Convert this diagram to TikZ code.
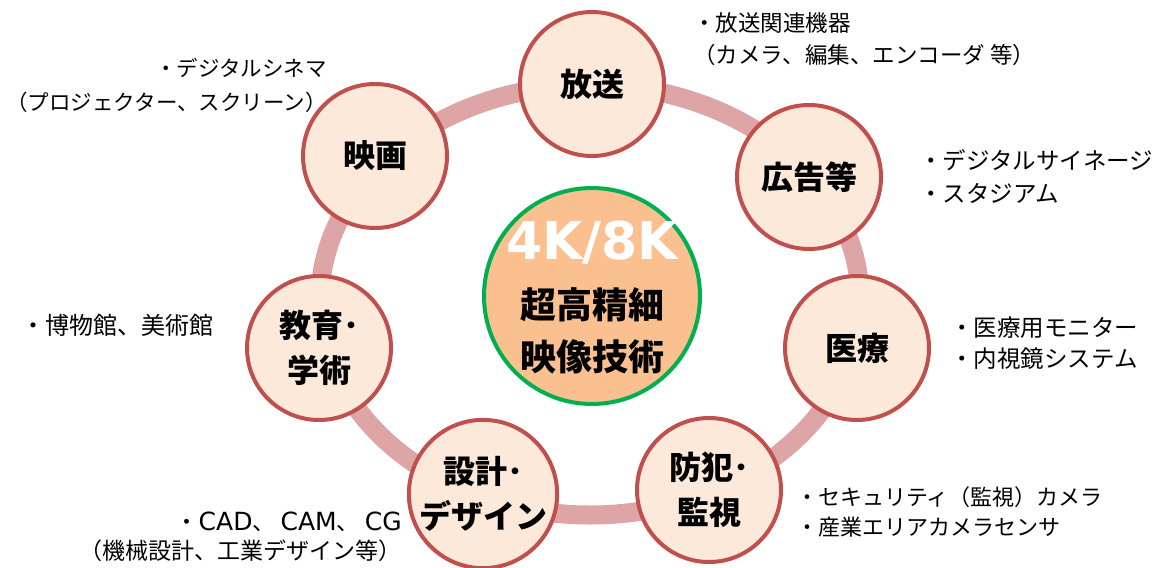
\documentclass[tikz,border=0pt]{standalone}
\usepackage{fontspec}
\setmainfont{Noto Sans CJK JP}
\newfontfamily\dvb{DejaVu Sans}
\definecolor{ringc}{HTML}{DDA5A5}
\definecolor{appline}{HTML}{C0504D}
\definecolor{appfill}{HTML}{FDE9D9}
\definecolor{coreline}{HTML}{00B050}
\definecolor{corefill}{HTML}{FAC090}
\newcommand{\lat}[1]{{\dvb\fontsize{25}{29}\selectfont #1}}
\begin{document}
\begin{tikzpicture}[x=1pt,y=-1pt,
  ring/.style={line width=19pt, draw=ringc},
  app/.style={circle, draw=appline, line width=4pt, fill=appfill, minimum size=144pt, inner sep=0pt, align=center, font=\fontsize{32}{45}\selectfont\bfseries},
  core/.style={circle, draw=coreline, line width=4pt, fill=corefill, minimum size=216pt, inner sep=0pt},
  note/.style={inner sep=0pt, font=\fontsize{22.5}{32}\selectfont}]
\useasboundingbox (0,0) rectangle (1166,567);
\draw[ring] (590,300) ellipse [x radius=270pt, y radius=215pt];
\node[core] (core) at (592,296) {};
\node[text=white, inner sep=0pt, font=\dvb\bfseries\fontsize{52}{52}\selectfont] (k) at (592,243) {4K/8K};
\node[inner sep=0pt, align=center, font=\bfseries\fontsize{36}{52}\selectfont] (ct) at (592,331) {超高精細\\映像技術};
\node[app] (hoso) at (592,84) {放送};
\node[app] (kokoku) at (809,177) {広告等};
\node[app] (iryo) at (857,348) {医療};
\node[app] (bohan) at (709,490) {防犯･\\監視};
\node[app] (sekkei) at (483,494) {設計･\\デザイン};
\node[app] (kyoiku) at (319,348) {教育･\\学術};
\node[app] (eiga) at (375,156) {映画};
\node[note, anchor=west, align=left] (n1) at (693,39) {・放送関連機器\\（カメラ、編集、エンコーダ 等）};
\node[note, anchor=west, align=left, font=\fontsize{23.5}{33}\selectfont] (n2) at (919,177) {・デジタルサイネージ\\・スタジアム};
\node[note, anchor=west, align=left, font=\fontsize{23.5}{31}\selectfont] (n3) at (950,343) {・医療用モニター\\・内視鏡システム};
\node[note, anchor=east, align=right, font=\fontsize{21.5}{34}\selectfont] (n4) at (327,85) {・デジタルシネマ\\（プロジェクター、スクリーン）};
\node[note, anchor=west, align=left, font=\fontsize{24}{32}\selectfont] (n5) at (21,325) {・博物館、美術館};
\node[note, anchor=east, align=right, font=\fontsize{23}{29}\selectfont] (n6) at (402,537) {・\lat{CAD}、 \lat{CAM}、 \lat{CG}\\（機械設計、工業デザイン等）};
\node[note, anchor=west, align=left, font=\fontsize{22}{30}\selectfont] (n7) at (796,512) {・セキュリティ（監視）カメラ\\・産業エリアカメラセンサ};
\end{tikzpicture}
\end{document}
